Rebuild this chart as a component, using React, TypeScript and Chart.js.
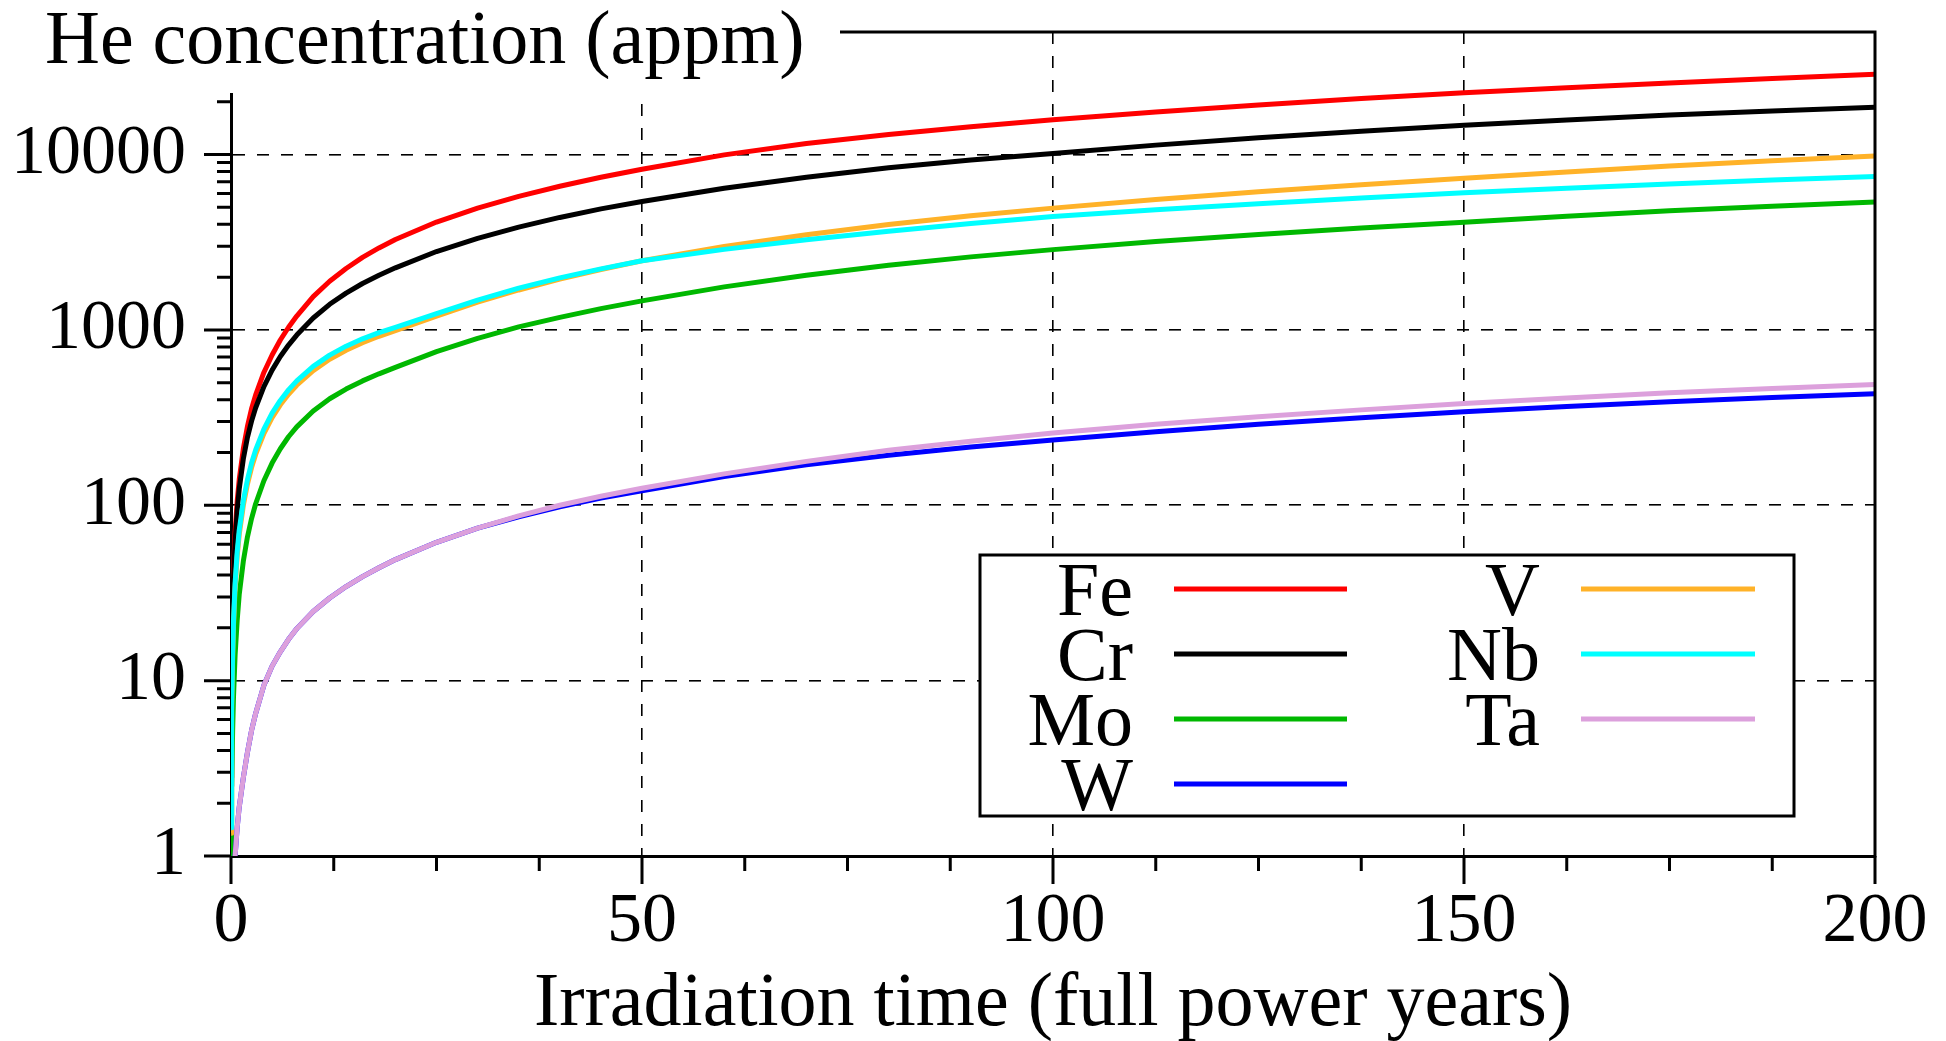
import React, { useEffect, useRef } from "react";
import { Chart, registerables } from "chart.js";

Chart.register(...registerables);

// ---- data ----
const years = [0.02, 0.05, 0.1, 0.2, 0.3, 0.5, 0.75, 1, 1.5, 2, 2.5, 3, 4, 5, 6, 7, 8, 10, 12, 14, 16, 18, 20, 25, 30, 35, 40, 45, 50, 60, 70, 80, 90, 100, 112.5, 125, 137.5, 150, 162.5, 175, 187.5, 200];

const fe = [2.8, 7, 14, 28, 42, 70, 105, 140, 210, 282, 355, 426, 572, 720, 876, 1036, 1200, 1550, 1896, 2240, 2592, 2934, 3280, 4125, 4950, 5775, 6600, 7425, 8250, 9960, 11550, 13000, 14400, 15800, 17500, 19190, 20850, 22500, 24060, 25600, 27150, 28700];
const cr = [2.5, 6, 12.5, 25, 37.5, 62, 93, 124, 184, 244, 302, 360, 475, 590, 705, 820, 935, 1170, 1400, 1620, 1840, 2050, 2260, 2800, 3330, 3860, 4380, 4900, 5400, 6420, 7420, 8400, 9320, 10150, 11320, 12460, 13580, 14680, 15760, 16800, 17720, 18600];
const mo = [0.4, 1.1, 2.5, 5.2, 8, 14, 22, 31, 48, 66, 84, 102, 138, 174, 210, 246, 280, 345, 405, 460, 512, 562, 612, 752, 895, 1040, 1180, 1322, 1465, 1760, 2050, 2340, 2610, 2870, 3190, 3500, 3810, 4110, 4450, 4780, 5080, 5360];
const w = [0.04, 0.1, 0.2, 0.4, 0.6, 1.0, 1.45, 1.9, 2.8, 3.9, 5.2, 6.5, 9.4, 12.1, 14.6, 17.2, 19.8, 24.8, 29.6, 34.4, 39.2, 44, 49, 61.5, 74, 86, 98, 110, 121, 146, 170, 193, 215, 236, 263, 290, 316, 341, 366, 390, 412, 433];
const v = [1.35, 3.4, 6.8, 13.6, 20.4, 34, 51, 68, 100, 132, 164, 195, 256, 316, 374, 430, 484, 586, 680, 766, 845, 920, 990, 1200, 1440, 1690, 1950, 2210, 2480, 2990, 3490, 3990, 4480, 4950, 5540, 6140, 6730, 7330, 7950, 8600, 9220, 9820];
const nb = [1.45, 3.6, 7.2, 14.4, 21.6, 36, 54, 72, 106, 140, 174, 207, 272, 335, 396, 455, 512, 620, 718, 808, 890, 966, 1035, 1240, 1480, 1730, 1980, 2230, 2480, 2880, 3270, 3650, 4050, 4440, 4850, 5250, 5650, 6050, 6420, 6800, 7160, 7510];
const ta = [0.04, 0.1, 0.2, 0.4, 0.6, 1.0, 1.45, 1.9, 2.8, 3.9, 5.2, 6.5, 9.4, 12.1, 14.6, 17.2, 19.8, 24.8, 29.6, 34.4, 39.2, 44, 49, 61.5, 74, 87, 100, 112.5, 125, 151, 178, 206, 232, 258, 290, 320, 350, 380, 409, 438, 464, 489];

const seriesLabels = ["Fe", "Cr", "Mo", "W", "V", "Nb", "Ta"];
const seriesValues = [fe, cr, mo, w, v, nb, ta];
const seriesColors = ["#ff0000", "#000000", "#00b800", "#0000ff", "#ffb228", "#00ffff", "#dca0dc"];

const xTicks = [0, 50, 100, 150, 200];
const yTicks = [1, 10, 100, 1000, 10000];
const xMin = 0;
const xMax = 200;
const yMin = 1;
const yMax = 50000;

const yTitle = "He concentration (appm)";
const xTitle = "Irradiation time (full power years)";

const SERIF = '"Liberation Serif", "Times New Roman", Times, serif';

export default function App() {
  const ref = useRef<HTMLCanvasElement>(null);

  useEffect(() => {
    document.body.style.margin = "0";
    document.body.style.overflow = "hidden";
    const canvas = ref.current;
    if (!canvas) return;

    const decorations = {
      id: "decorations",
      afterDraw(chart: any) {
        const { ctx, chartArea, scales } = chart;
        const { left, right, top, bottom } = chartArea;
        const xs = scales.x;
        const ys = scales.y;
        ctx.save();
        ctx.strokeStyle = "#000";
        ctx.lineWidth = 3;
        ctx.lineCap = "butt";

        // top & right border
        ctx.beginPath();
        ctx.moveTo(left - 1.5, top);
        ctx.lineTo(right, top);
        ctx.lineTo(right, bottom + 1.5);
        ctx.stroke();

        // y ticks (outward)
        ctx.beginPath();
        yTicks.forEach((d) => {
          const py = ys.getPixelForValue(d);
          ctx.moveTo(left - 27, py);
          ctx.lineTo(left, py);
          for (let m = 2; m <= 9; m++) {
            const val = m * d;
            if (val > yMax) break;
            const p = ys.getPixelForValue(val);
            ctx.moveTo(left - 14, p);
            ctx.lineTo(left, p);
          }
        });
        ctx.stroke();

        // x ticks (outward)
        ctx.beginPath();
        const step = xTicks[1] - xTicks[0];
        xTicks.forEach((t, i) => {
          const px = xs.getPixelForValue(t);
          ctx.moveTo(px, bottom);
          ctx.lineTo(px, bottom + 28);
          if (i < xTicks.length - 1) {
            for (let k = 1; k < 4; k++) {
              const p = xs.getPixelForValue(t + (step * k) / 4);
              ctx.moveTo(p, bottom);
              ctx.lineTo(p, bottom + 15);
            }
          }
        });
        ctx.stroke();

        // legend box
        const bx = 980, by = 555, bw = 814, bh = 261;
        ctx.fillStyle = "#fff";
        ctx.fillRect(bx, by, bw, bh);
        ctx.lineWidth = 3;
        ctx.strokeStyle = "#000";
        ctx.strokeRect(bx, by, bw, bh);
        ctx.font = `76px ${SERIF}`;
        ctx.textAlign = "right";
        ctx.textBaseline = "alphabetic";
        const colLabelRight = [1133, 1540];
        const colLineStart = [1174, 1581];
        const colLineEnd = [1347, 1755];
        seriesLabels.forEach((lab, i) => {
          const col = Math.floor(i / 4);
          const row = i % 4;
          const cy = 589 + row * 65;
          ctx.fillStyle = "#000";
          ctx.fillText(lab, colLabelRight[col], cy + 26);
          ctx.strokeStyle = seriesColors[i];
          ctx.lineWidth = 5;
          ctx.beginPath();
          ctx.moveTo(colLineStart[col], cy);
          ctx.lineTo(colLineEnd[col], cy);
          ctx.stroke();
        });

        // title (white background covering the border's top-left part)
        ctx.fillStyle = "#fff";
        ctx.fillRect(0, 0, 840, 93);
        ctx.fillStyle = "#000";
        ctx.textAlign = "left";
        ctx.font = `76px ${SERIF}`;
        ctx.fillText(yTitle, 45, 63);

        // x axis title
        ctx.textAlign = "center";
        ctx.fillText(xTitle, (left + right) / 2, 1025);
        ctx.restore();
      },
    };

    const chart = new Chart(canvas, {
      type: "line",
      data: {
        datasets: seriesLabels.map((lab, i) => ({
          label: lab,
          data: years.map((t, j) => ({ x: t, y: seriesValues[i][j] })),
          borderColor: seriesColors[i],
          backgroundColor: seriesColors[i],
          borderWidth: 5,
          pointRadius: 0,
          tension: 0,
          fill: false,
          borderJoinStyle: "round",
          order: seriesLabels.length - i,
        })),
      },
      options: {
        responsive: false,
        animation: false,
        devicePixelRatio: 1,
        layout: { padding: { left: 0, right: 71, top: 32, bottom: 0 } },
        plugins: {
          legend: { display: false },
          tooltip: { enabled: false },
          title: { display: false },
        },
        scales: {
          x: {
            type: "linear",
            min: xMin,
            max: xMax,
            afterBuildTicks: (s: any) => {
              s.ticks = xTicks.map((t) => ({ value: t }));
            },
            afterFit: (s: any) => {
              s.height = 185;
              s.paddingLeft = 0;
              s.paddingRight = 0;
            },
            ticks: {
              autoSkip: false,
              maxRotation: 0,
              padding: 25,
              color: "#000",
              font: { family: SERIF, size: 70 },
              callback: (val: any) => String(val),
            },
            grid: {
              drawTicks: false,
              lineWidth: 1.6,
              color: (c: any) =>
                c.tick && (c.tick.value === xMin || c.tick.value === xMax) ? "rgba(0,0,0,0)" : "#000",
            },
            border: { display: true, color: "#000", width: 3, dash: [12, 12] },
          },
          y: {
            type: "logarithmic",
            min: yMin,
            max: yMax,
            afterBuildTicks: (s: any) => {
              s.ticks = yTicks.map((t) => ({ value: t }));
            },
            afterFit: (s: any) => {
              s.width = 231;
              s.paddingTop = 0;
              s.paddingBottom = 0;
            },
            ticks: {
              autoSkip: false,
              padding: 45,
              color: "#000",
              font: { family: SERIF, size: 70 },
              callback: (val: any) => String(val),
            },
            grid: {
              drawTicks: false,
              lineWidth: 1.6,
              color: (c: any) => (c.tick && c.tick.value === yMin ? "rgba(0,0,0,0)" : "#000"),
            },
            border: { display: true, color: "#000", width: 3, dash: [12, 12] },
          },
        },
      },
      plugins: [decorations],
    } as any);

    return () => chart.destroy();
  }, []);

  return (
    <canvas
      ref={ref}
      width={1946}
      height={1041}
      style={{ display: "block", width: 1946, height: 1041 }}
    />
  );
}
